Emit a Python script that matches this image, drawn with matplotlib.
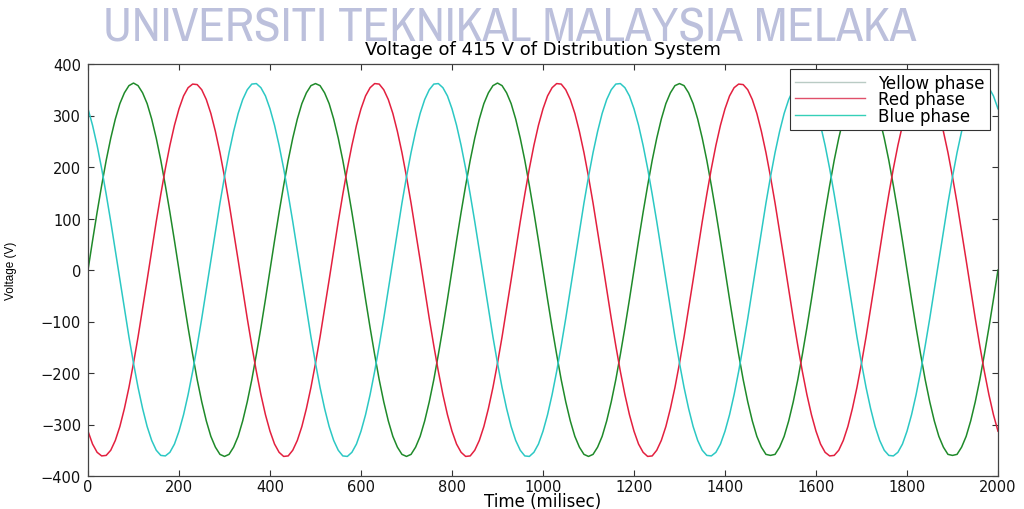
import matplotlib
matplotlib.use('Agg')
import matplotlib.pyplot as plt
from matplotlib import font_manager as fm
from matplotlib.lines import Line2D

time_ms = list(range(0, 2001, 10))

yellow_phase = [
    0, 57, 112, 164, 213, 256, 293, 323, 344, 358, 363, 358, 344, 323, 293, 256, 213, 164, 112, 57,
    0, -57, -112, -164, -213, -256, -293, -323, -344, -358, -362, -358, -344, -323, -293, -256, -213, -164, -112, -57,
    0, 57, 112, 164, 213, 256, 293, 323, 344, 358, 362, 358, 344, 323, 293, 256, 213, 164, 112, 57,
    0, -57, -112, -164, -213, -256, -293, -323, -344, -358, -362, -358, -344, -323, -293, -256, -213, -164, -112, -57,
    0, 57, 112, 164, 213, 256, 293, 323, 344, 358, 363, 358, 344, 323, 293, 256, 213, 164, 112, 57,
    0, -57, -112, -164, -213, -256, -293, -323, -344, -358, -362, -358, -344, -323, -293, -256, -213, -164, -112, -57,
    0, 57, 112, 164, 213, 256, 293, 323, 344, 358, 362, 358, 344, 323, 293, 256, 213, 164, 112, 57,
    0, -57, -112, -164, -213, -256, -293, -323, -344, -358, -360, -358, -344, -323, -293, -256, -213, -164, -112, -57,
    0, 57, 112, 164, 213, 256, 293, 323, 344, 358, 361, 358, 344, 323, 293, 256, 213, 164, 112, 57,
    0, -57, -112, -164, -213, -256, -293, -323, -344, -358, -360, -358, -344, -323, -293, -256, -213, -164, -112, -57,
    0,
]
red_phase = [
    -313, -338, -354, -361, -360, -350, -331, -304, -269, -228, -181, -130, -75, -19, 38, 94, 147, 197, 242, 281,
    313, 338, 354, 361, 360, 350, 331, 304, 269, 228, 181, 130, 75, 19, -38, -94, -147, -197, -242, -281,
    -313, -338, -354, -362, -361, -350, -331, -304, -269, -228, -181, -130, -75, -19, 38, 94, 147, 197, 242, 281,
    313, 338, 354, 362, 361, 350, 331, 304, 269, 228, 181, 130, 75, 19, -38, -94, -147, -197, -242, -281,
    -313, -338, -354, -362, -361, -350, -331, -304, -269, -228, -181, -130, -75, -19, 38, 94, 147, 197, 242, 281,
    313, 338, 354, 362, 361, 350, 331, 304, 269, 228, 181, 130, 75, 19, -38, -94, -147, -197, -242, -281,
    -313, -338, -354, -362, -361, -350, -331, -304, -269, -228, -181, -130, -75, -19, 38, 94, 147, 197, 242, 281,
    313, 338, 354, 361, 360, 350, 331, 304, 269, 228, 181, 130, 75, 19, -38, -94, -147, -197, -242, -281,
    -313, -338, -354, -361, -360, -350, -331, -304, -269, -228, -181, -130, -75, -19, 38, 94, 147, 197, 242, 281,
    313, 338, 354, 361, 360, 350, 331, 304, 269, 228, 181, 130, 75, 19, -38, -94, -147, -197, -242, -281,
    -313,
]
blue_phase = [
    313, 281, 242, 197, 147, 94, 38, -19, -75, -130, -181, -228, -269, -304, -331, -350, -360, -361, -354, -338,
    -313, -281, -242, -197, -147, -94, -38, 19, 75, 130, 181, 228, 269, 304, 331, 350, 361, 362, 354, 338,
    313, 281, 242, 197, 147, 94, 38, -19, -75, -130, -181, -228, -269, -304, -331, -350, -361, -362, -354, -338,
    -313, -281, -242, -197, -147, -94, -38, 19, 75, 130, 181, 228, 269, 304, 331, 350, 361, 362, 354, 338,
    313, 281, 242, 197, 147, 94, 38, -19, -75, -130, -181, -228, -269, -304, -331, -350, -361, -362, -354, -338,
    -313, -281, -242, -197, -147, -94, -38, 19, 75, 130, 181, 228, 269, 304, 331, 350, 361, 362, 354, 338,
    313, 281, 242, 197, 147, 94, 38, -19, -75, -130, -181, -228, -269, -304, -331, -350, -360, -361, -354, -338,
    -313, -281, -242, -197, -147, -94, -38, 19, 75, 130, 181, 228, 269, 304, 331, 350, 360, 361, 354, 338,
    313, 281, 242, 197, 147, 94, 38, -19, -75, -130, -181, -228, -269, -304, -331, -350, -360, -361, -354, -338,
    -313, -281, -242, -197, -147, -94, -38, 19, 75, 130, 181, 228, 269, 304, 331, 350, 360, 361, 354, 338,
    313,
]
series_names = ['Yellow phase', 'Red phase', 'Blue phase']
x_ticks = [0, 200, 400, 600, 800, 1000, 1200, 1400, 1600, 1800, 2000]
y_ticks = [-400, -300, -200, -100, 0, 100, 200, 300, 400]

# ---------------- fonts ----------------
def _wnum(w):
    if isinstance(w, int):
        return w
    return {'normal': 400, 'regular': 400, 'book': 400, 'medium': 500}.get(str(w).lower(), 700)

def find_narrow():
    cands = []
    for f in fm.fontManager.ttflist:
        n = f.name
        narrow = ('Narrow' in n or 'Condensed' in n or
                  str(f.stretch) in ('condensed', 'semi-condensed', 'extra-condensed'))
        if not narrow or 'Mono' in n or 'Serif' in n or f.style != 'normal':
            continue
        cands.append((abs(_wnum(f.weight) - 400), n, f.fname))
    if cands:
        cands.sort()
        return fm.FontProperties(fname=cands[0][2])
    return fm.FontProperties(family='Liberation Sans')

plt.rcParams['font.family'] = ['DejaVu Sans']

line_colors = ['#1f8a2a', '#e3203f', '#2cc8c4']
legend_colors = ['#b9cbc4', '#e0506a', '#35d0b8']

fig = plt.figure(figsize=(10.24, 5.10), dpi=100)
ax = fig.add_axes([88 / 1024, 1 - 477 / 510, 910 / 1024, 412 / 510])

for vals, col in zip([yellow_phase, red_phase, blue_phase], line_colors):
    ax.plot(time_ms, vals, color=col, lw=1.1)

ax.set_xlim(0, 2000)
ax.set_ylim(-400, 400)
ax.set_xticks(x_ticks)
ax.set_yticks(y_ticks)
ax.tick_params(direction='in', top=True, right=True, length=4, width=0.8,
               labelsize=10.5, color='#333333', labelcolor='#111111', pad=2)
ax.tick_params(axis='y', pad=5)
for s in ax.spines.values():
    s.set_color('#444444')
    s.set_linewidth(0.9)

ax.set_xlabel('Time (milisec)', fontsize=12, labelpad=-1)
ax.set_ylabel('Voltage (V)', fontsize=8.5, family=['Liberation Sans', 'DejaVu Sans'], labelpad=17)
ax.set_title('Voltage of 415 V of Distribution System', fontsize=13, pad=7)

handles = [Line2D([0], [0], color=c, lw=1.0) for c in legend_colors]
leg = ax.legend(handles, series_names, loc='upper right', fontsize=12,
                bbox_to_anchor=(990 / 1024, 1 - 70 / 510), bbox_transform=fig.transFigure,
                borderaxespad=0, handlelength=4.2, framealpha=1,
                fancybox=False, borderpad=0.3, labelspacing=-0.1, handletextpad=0.8)
leg.get_frame().set_edgecolor('#333333')
leg.get_frame().set_linewidth(0.8)

wm_fp = find_narrow()
wm = fig.text(510 / 1024, 1 - 41 / 510, 'UNIVERSITI TEKNIKAL MALAYSIA MELAKA',
              ha='center', va='baseline', fontsize=31, color='#bcc0dc',
              fontproperties=wm_fp)
wm.set_fontsize(31)
# fit the watermark width to the reference (about 815 px)
r = fig.canvas.get_renderer()
w = wm.get_window_extent(renderer=r).width
wm.set_fontsize(31 * 815 / w)

fig.savefig('out.png', dpi=100)
